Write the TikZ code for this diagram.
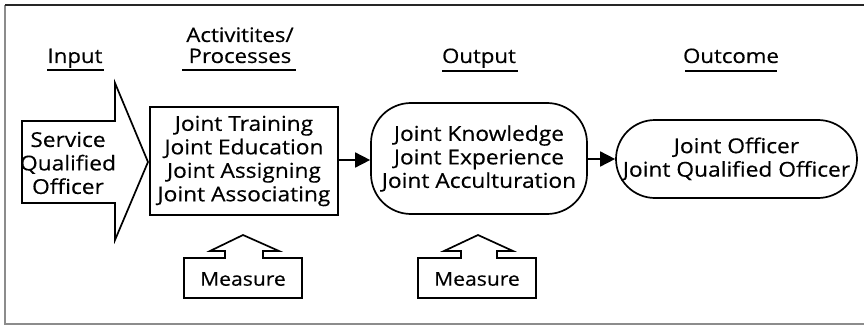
\documentclass[tikz,border=0pt]{standalone}
\usepackage{fontspec}
\setmainfont{Open Sans}[FakeStretch=1.11,FakeBold=0.4]
\usetikzlibrary{arrows.meta}

\tikzset{
  headline/.style={anchor=base,align=center,font=\fontsize{20}{22}\selectfont},
  stagebox/.style={draw,line width=1.7pt,align=center,inner sep=0pt},
  flowarrow/.style={line width=1.7pt,-{Triangle[length=15pt,width=15pt]}}
}

\begin{document}
\begin{tikzpicture}[x=1pt,y=-1pt,line width=1.7pt,font=\fontsize{20.5}{23.5}\selectfont]
\useasboundingbox (0,0) rectangle (864,326);
% frame
\draw[line width=1.2pt,draw=black!45] (5,5) -- (5,324) -- (868,324);
\draw[line width=2.4pt,draw=black!85] (5,5) -- (868,5);
% headings
\node[headline] (hinput) at (75,63) {Input};
\draw (47,70) -- (104,70);
\node[headline] (hact) at (240,42) {Activitites/};
\node[headline] (hproc) at (240,63) {Processes};
\draw (182,70) -- (296,70);
\node[headline] (houtput) at (479,63) {Output};
\draw (442,71) -- (518,71);
\node[headline] (houtcome) at (731,63) {Outcome};
\draw (685,71) -- (777,71);
% input arrow
\draw (22,121) -- (115,121) -- (115,83) -- (148,162) -- (115,240) -- (115,203) -- (22,203) -- cycle;
\node[align=center] (input) at (68,163) {Service\\Qualified\\Officer};
% stages
\node[stagebox,minimum width=188,minimum height=108] (act) at (244,161)
  {Joint Training\\Joint Education\\Joint Assigning\\Joint Associating};
\node[stagebox,rounded corners=40,minimum width=216,minimum height=111] (out) at (479,158.5)
  {Joint Knowledge\\Joint Experience\\Joint Acculturation};
\node[stagebox,rounded corners=39,minimum width=241,minimum height=78] (outc) at (736.5,159)
  {Joint Officer\\Joint Qualified Officer};
\draw[flowarrow] (act.east |- 0,160) -- (out.west |- 0,160);
\draw[flowarrow] (out.east |- 0,159) -- (outc.west |- 0,159);
% measures
\draw (225,258) -- (184,258) -- (184,298) -- (302,298) -- (302,258) -- (263,258) -- (263,251)
  -- (279,251) -- (243,235) -- (210,251) -- (225,251) -- cycle;
\node[font=\fontsize{19}{22}\selectfont] (meas1) at (243,279) {Measure};
\draw (461,258) -- (418,258) -- (418,298) -- (536,298) -- (536,258) -- (497,258) -- (497,251)
  -- (513,251) -- (478,235) -- (444,251) -- (461,251) -- cycle;
\node[font=\fontsize{19}{22}\selectfont] (meas2) at (477,279) {Measure};
\end{tikzpicture}
\end{document}
